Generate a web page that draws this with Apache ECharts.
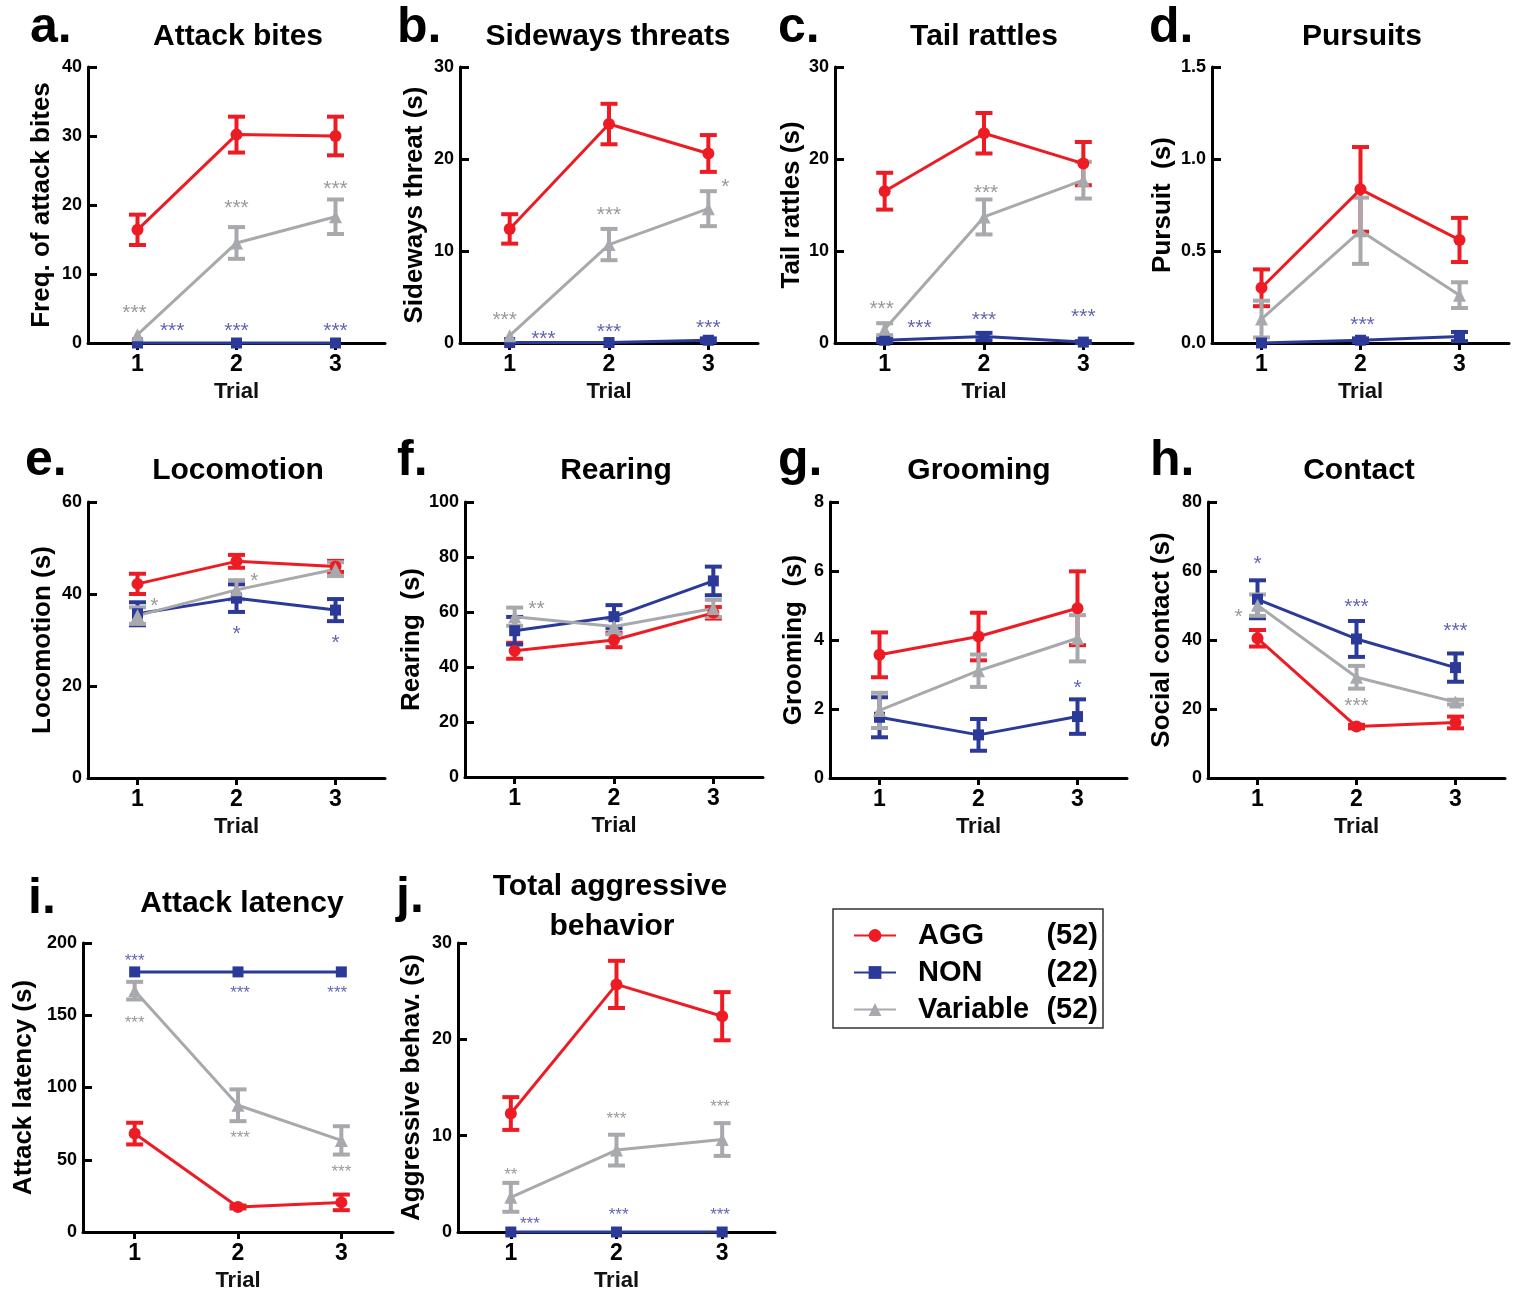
<!DOCTYPE html>
<html>
<head>
<meta charset="utf-8">
<script src="https://cdn.jsdelivr.net/npm/echarts@6/dist/echarts.min.js"></script>
<style>
html,body{margin:0;padding:0;background:#fff;}
#chart{width:1515px;height:1294px;}
</style>
</head>
<body>
<div id="chart"></div>
<script>
// ---------------- DATA ----------------
const groups = ['AGG', 'NON', 'Variable'];
const groupN = [52, 22, 52];
const trials = [1, 2, 3];
const trialLabels = ['1', '2', '3'];

const panelLetters = ['a.', 'b.', 'c.', 'd.', 'e.', 'f.', 'g.', 'h.', 'i.', 'j.'];
const panelTitles = ['Attack bites', 'Sideways threats', 'Tail rattles', 'Pursuits', 'Locomotion',
  'Rearing', 'Grooming', 'Contact', 'Attack latency', 'Total aggressive\nbehavior'];
const yNames = ['Freq. of attack bites', 'Sideways threat (s)', 'Tail rattles (s)', 'Pursuit  (s)',
  'Locomotion (s)', 'Rearing  (s)', 'Grooming  (s)', 'Social contact (s)', 'Attack latency (s)',
  'Aggressive behav. (s)'];
const yMax = [40, 30, 30, 1.5, 60, 100, 8, 80, 200, 30];
const yStep = [10, 10, 10, 0.5, 20, 20, 2, 20, 50, 10];
const yDecimals = [0, 0, 0, 1, 0, 0, 0, 0, 0, 0];

// means: [AGG, NON, Variable] per trial ; sem likewise
const bitesMean = [[16.4, 30.2, 30.0], [0, 0, 0], [1.2, 14.5, 18.3]];
const bitesSem = [[2.2, 2.6, 2.8], [0, 0, 0], [0, 2.3, 2.5]];
const threatMean = [[12.4, 23.8, 20.6], [0.05, 0.05, 0.3], [0.8, 10.7, 14.6]];
const threatSem = [[1.6, 2.2, 2.0], [0, 0, 0.2], [0, 1.7, 1.9]];
const rattleMean = [[16.5, 22.8, 19.5], [0.3, 0.7, 0.1], [1.5, 13.7, 17.7]];
const rattleSem = [[2.0, 2.2, 2.35], [0.2, 0.4, 0.1], [0.65, 1.9, 2.0]];
const pursuitMean = [[0.30, 0.835, 0.56], [0, 0.015, 0.035], [0.13, 0.61, 0.26]];
const pursuitSem = [[0.10, 0.23, 0.12], [0, 0.01, 0.025], [0.10, 0.18, 0.07]];
const locoMean = [[42.2, 47.1, 46.0], [35.7, 39.1, 36.5], [35.3, 40.9, 45.4]];
const locoSem = [[2.2, 1.4, 1.2], [2.5, 3.0, 2.4], [1.8, 2.1, 1.5]];
const rearMean = [[45.9, 49.8, 59.7], [53.2, 58.3, 71.3], [58.3, 54.7, 61.3]];
const rearSem = [[2.9, 2.6, 2.1], [5.0, 4.2, 5.2], [3.3, 2.8, 3.1]];
const groomMean = [[3.57, 4.10, 4.92], [1.76, 1.25, 1.78], [1.96, 3.11, 4.05]];
const groomSem = [[0.65, 0.69, 1.07], [0.58, 0.46, 0.5], [0.51, 0.47, 0.67]];
const contactMean = [[40.5, 14.9, 16.1], [51.8, 40.3, 32.0], [50.1, 29.2, 22.0]];
const contactSem = [[2.4, 0.5, 1.7], [5.5, 5.2, 4.1], [3.1, 3.3, 0.7]];
const latencyMean = [[68.1, 17.3, 20.5], [180, 180, 180], [167, 87.7, 63.4]];
const latencySem = [[7.5, 1.0, 5.4], [0, 0, 0], [6.1, 11, 9.8]];
const aggMean = [[12.3, 25.7, 22.4], [0, 0, 0], [3.6, 8.5, 9.6]];
const aggSem = [[1.7, 2.45, 2.5], [0, 0, 0], [1.5, 1.6, 1.7]];

// significance marks: [trial, value, text, group index]
const bitesStars = [[0.97, 5.1, '***', 2], [1.35, 2.5, '***', 1], [2, 2.5, '***', 1], [3, 2.5, '***', 1], [2, 20.3, '***', 2], [3, 23.0, '***', 2]];
const threatStars = [[0.95, 3.0, '***', 2], [1.34, 1.0, '***', 1], [2, 1.7, '***', 1], [3, 2.2, '***', 1], [2, 14.4, '***', 2], [3.17, 17.5, '*', 2]];
const rattleStars = [[0.97, 4.2, '***', 2], [1.35, 2.2, '***', 1], [2, 3.0, '***', 1], [3, 3.3, '***', 1], [2.02, 16.8, '***', 2]];
const pursuitStars = [[2.02, 0.125, '***', 1]];
const locoStars = [[1.17, 38.5, '*', 2], [2.18, 43.8, '*', 2], [2, 32.3, '*', 1], [3, 30.3, '*', 1]];
const rearStars = [[1.22, 62.8, '**', 2]];
const groomStars = [[3, 2.75, '*', 1]];
const contactStars = [[1, 63.3, '*', 1], [2, 51.1, '***', 1], [3, 43.9, '***', 1], [0.81, 48.2, '*', 2], [2, 22.2, '***', 2]];
const latencyStars = [[1, 190.3, '***', 1], [2.02, 168.2, '***', 1], [2.96, 167.7, '***', 1], [1, 147.4, '***', 2], [2.02, 67.4, '***', 2], [3, 44.3, '***', 2]];
const aggStars = [[1, 6.3, '**', 2], [1.18, 1.2, '***', 1], [2.02, 2.2, '***', 1], [2.98, 2.2, '***', 1], [2, 12.1, '***', 2], [2.98, 13.4, '***', 2]];

const panelMeans = [bitesMean, threatMean, rattleMean, pursuitMean, locoMean, rearMean, groomMean, contactMean, latencyMean, aggMean];
const panelSems = [bitesSem, threatSem, rattleSem, pursuitSem, locoSem, rearSem, groomSem, contactSem, latencySem, aggSem];
const panelStars = [bitesStars, threatStars, rattleStars, pursuitStars, locoStars, rearStars, groomStars, contactStars, latencyStars, aggStars];

// ---------------- LAYOUT / STYLE ----------------
const FONT = '"Liberation Sans", Arial, Helvetica, sans-serif';
const colors = ['#ED1C24', '#2B3A98', '#A7A9AC'];
const starColors = ['#ED1C24', '#3A3D9F', '#7F7F7F'];
const symbols = ['circle', 'rect', 'triangle'];
const symbolSizes = [12, 11, 13];
const gridRects = [
  [88, 67, 297, 276], [460, 67, 298, 276], [835, 67, 298, 276], [1212, 67, 297, 276],
  [88, 502, 297, 276], [465, 502, 298, 275], [830, 502, 297, 276], [1208, 502, 297, 276],
  [83, 943, 310, 289], [458, 943, 317, 289]
];
const yNameGap = [33, 32, 30, 36, 32, 39, 23, 33, 46, 33];
const letterPos = [[30, 46], [397, 46], [778, 46], [1149, 46], [25, 479], [397, 479], [778, 479], [1150, 479], [28, 917], [396, 916]];
const titlePos = [[238, 47], [608, 47], [984, 47], [1362, 47], [238, 481], [616, 481], [979, 481], [1359, 481], [242, 914], [610, 897]];
const starSize = [21, 21, 21, 21, 21, 21, 21, 21, 17, 17];

function textEl(text, x, baseline, size, align) {
  const y = baseline - 0.35 * size;
  return {
    type: 'text', x: x, y: y, silent: true,
    style: {
      text: text, font: 'bold ' + size + 'px ' + FONT, fill: '#000',
      textAlign: align, textVerticalAlign: 'middle', align: align, verticalAlign: 'middle'
    }
  };
}

const grids = [], xAxes = [], yAxes = [], series = [], graphics = [];

gridRects.forEach((r, i) => {
  grids.push({ left: r[0], top: r[1], width: r[2], height: r[3], containLabel: false });
  xAxes.push({
    type: 'value', gridIndex: i, min: 0.5, max: 3.5,
    axisLine: { show: true, onZero: false, lineStyle: { color: '#000', width: 3 } },
    axisTick: { show: true, customValues: trials, length: 7, lineStyle: { color: '#000', width: 3 } },
    axisLabel: {
      show: true, customValues: trials, formatter: v => trialLabels[Math.round(v) - 1],
      fontSize: 23, fontWeight: 'bold', color: '#000', fontFamily: FONT, margin: 10
    },
    splitLine: { show: false },
    name: 'Trial', nameLocation: 'middle', nameGap: 38,
    nameTextStyle: { fontSize: 22, fontWeight: 'bold', color: '#111', fontFamily: FONT }
  });
  yAxes.push({
    type: 'value', gridIndex: i, min: 0, max: yMax[i], interval: yStep[i],
    axisLine: { show: true, lineStyle: { color: '#000', width: 3 } },
    axisTick: { show: true, inside: true, length: 9, lineStyle: { color: '#000', width: 3 } },
    axisLabel: {
      fontSize: 18, fontWeight: 'bold', color: '#000', fontFamily: FONT, margin: 6,
      formatter: v => v.toFixed(yDecimals[i])
    },
    splitLine: { show: false },
    name: yNames[i], nameLocation: 'middle', nameGap: yNameGap[i], nameRotate: 90,
    nameTextStyle: { fontSize: 26, fontWeight: 'bold', color: '#000', fontFamily: FONT }
  });

  const means = panelMeans[i], sems = panelSems[i];
  groups.forEach((g, gi) => {
    series.push({
      type: 'line', name: g, xAxisIndex: i, yAxisIndex: i,
      data: trials.map((t, k) => [t, means[gi][k]]),
      symbol: symbols[gi], symbolSize: symbolSizes[gi], clip: false,
      lineStyle: { color: colors[gi], width: 3 },
      itemStyle: { color: colors[gi] },
      emphasis: { disabled: true }, animation: false, z: 3
    });
    series.push({
      type: 'custom', xAxisIndex: i, yAxisIndex: i, clip: false, silent: true, z: 3,
      data: trials.map((t, k) => [t, means[gi][k] - sems[gi][k], means[gi][k] + sems[gi][k], sems[gi][k]]),
      encode: { x: 0, y: [1, 2] },
      renderItem: function (params, api) {
        if (!(api.value(3) > 0)) return null;
        const top = api.coord([api.value(0), api.value(2)]);
        const bot = api.coord([api.value(0), api.value(1)]);
        const hw = 8.5;
        const st = { stroke: colors[gi], lineWidth: 4 };
        return {
          type: 'group', children: [
            { type: 'line', shape: { x1: top[0], y1: top[1], x2: bot[0], y2: bot[1] }, style: st },
            { type: 'line', shape: { x1: top[0] - hw, y1: top[1], x2: top[0] + hw, y2: top[1] }, style: st },
            { type: 'line', shape: { x1: bot[0] - hw, y1: bot[1], x2: bot[0] + hw, y2: bot[1] }, style: st }
          ]
        };
      }
    });
  });

  const fs = starSize[i];
  series.push({
    type: 'scatter', xAxisIndex: i, yAxisIndex: i, silent: true, z: 6,
    symbolSize: 1, itemStyle: { color: 'rgba(0,0,0,0)' },
    data: panelStars[i].map(s => ({
      value: [s[0], s[1]],
      label: { formatter: s[2], color: starColors[s[3]] }
    })),
    label: { show: true, position: 'inside', fontSize: fs, fontFamily: FONT, offset: [0, fs * 0.24] }
  });

  graphics.push(textEl(panelLetters[i], letterPos[i][0], letterPos[i][1], 50, 'left'));
  const lines = panelTitles[i].split('\n');
  lines.forEach((ln, li) => {
    graphics.push(textEl(ln, titlePos[i][0] + (li ? 2 : 0), titlePos[i][1] + li * 40, 30, 'center'));
  });
});

graphics.push({
  type: 'rect', silent: true,
  shape: { x: 833, y: 909, width: 270, height: 119 },
  style: { fill: 'none', stroke: '#333', lineWidth: 1.5 }
});

const option = {
  animation: false,
  backgroundColor: '#fff',
  grid: grids, xAxis: xAxes, yAxis: yAxes, series: series,
  graphic: graphics,
  legend: {
    data: groups, orient: 'vertical', left: 848, top: 916, padding: 5, itemGap: 8,
    itemWidth: 42, itemHeight: 16, selectedMode: false,
    formatter: name => '{s| }{n|' + name + '}{c|(' + groupN[groups.indexOf(name)] + ')}',
    textStyle: {
      fontSize: 29, fontWeight: 'bold', color: '#000', fontFamily: FONT, lineHeight: 29,
      rich: {
        s: { width: 17, fontSize: 29 },
        n: { width: 118, fontSize: 29, fontWeight: 'bold', fontFamily: FONT, color: '#000' },
        c: { width: 62, align: 'right', fontSize: 29, fontWeight: 'bold', fontFamily: FONT, color: '#000' }
      }
    }
  }
};

const chart = echarts.init(document.getElementById('chart'), null, { renderer: 'canvas' });
chart.setOption(option);
</script>
</body>
</html>
